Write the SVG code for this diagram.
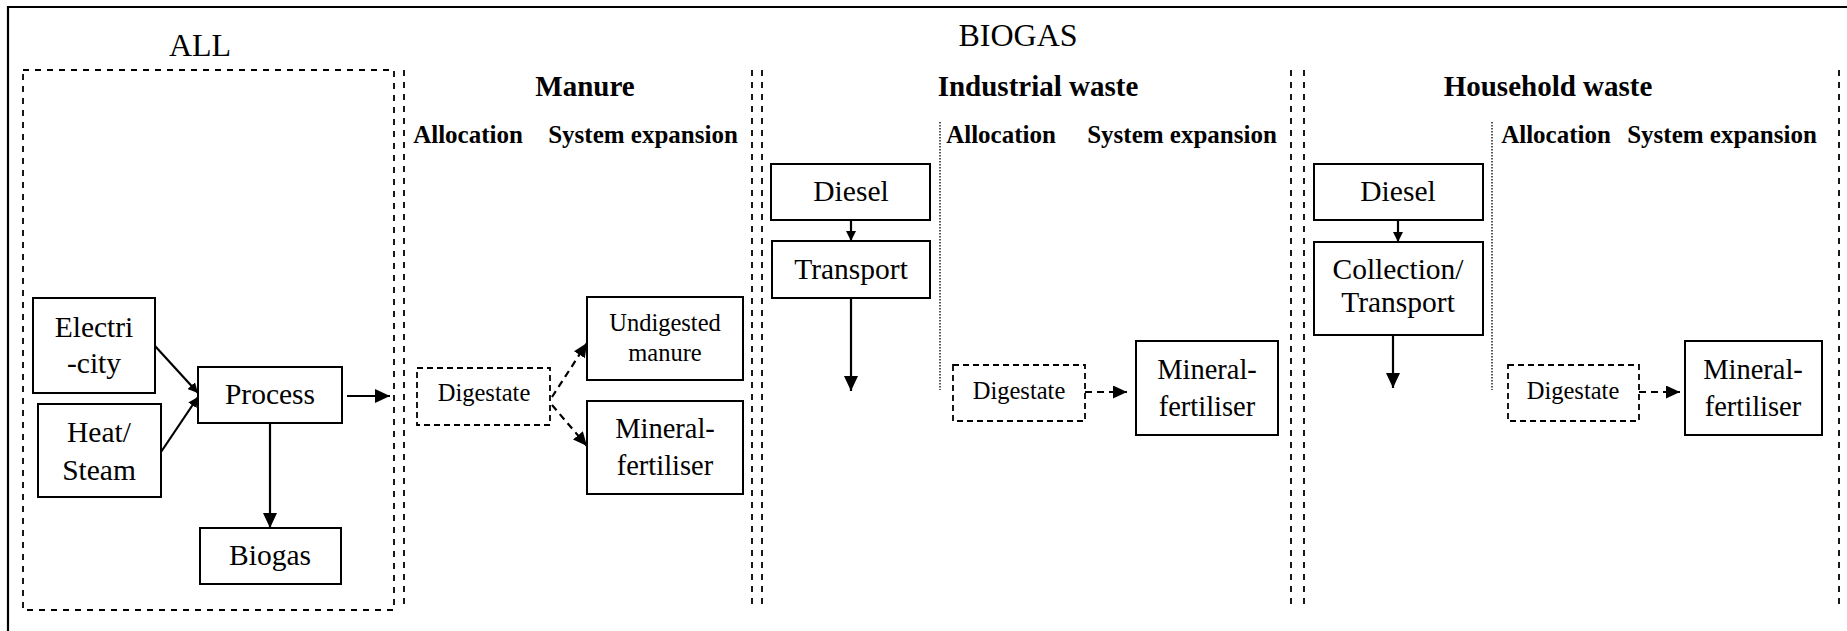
<svg xmlns="http://www.w3.org/2000/svg" width="1847" height="631" viewBox="0 0 1847 631">
<style>
text{font-family:"Liberation Serif","Times New Roman",serif;fill:#000;text-anchor:middle}
.t{font-size:32px}
.h{font-size:29px;font-weight:bold}
.s{font-size:25px;font-weight:bold}
.b{font-size:29.5px}
.f{font-size:28.5px}
.m{font-size:24.5px}
.box{fill:#fff;stroke:#000;stroke-width:2}
.dbox{fill:#fff;stroke:#000;stroke-width:1.8;stroke-dasharray:6 4}
.col{fill:none;stroke:#000;stroke-width:1.8;stroke-dasharray:6 6}
.dot{fill:none;stroke:#000;stroke-width:1.3;stroke-dasharray:1.5 1.5}
.arr{fill:none;stroke:#000;stroke-width:2.2}
.darr{fill:none;stroke:#000;stroke-width:2.2;stroke-dasharray:7 5}
</style>
<defs>
<marker id="ah" markerUnits="userSpaceOnUse" markerWidth="15" markerHeight="14" refX="15" refY="7" orient="auto"><path d="M0,0 L15,7 L0,14 z" fill="#000"/></marker>
<marker id="ahs" markerUnits="userSpaceOnUse" markerWidth="10" markerHeight="10" refX="10" refY="5" orient="auto"><path d="M0,0 L10,5 L0,10 z" fill="#000"/></marker>
<marker id="ahd" markerUnits="userSpaceOnUse" markerWidth="14" markerHeight="13" refX="14" refY="6.5" orient="auto"><path d="M0,0 L14,6.5 L0,13 z" fill="#000"/></marker>
</defs>
<rect width="1847" height="631" fill="#fff"/>
<g id="frame">
<line x1="8" y1="7" x2="1847" y2="7" stroke="#000" stroke-width="2.2"/>
<line x1="8" y1="6" x2="8" y2="631" stroke="#000" stroke-width="2.2"/>
</g>
<g id="titles">
<text class="t" x="1018" y="46">BIOGAS</text>
<text class="t" x="200" y="56">ALL</text>
<text class="h" x="585" y="96">Manure</text>
<text class="h" x="1038" y="96">Industrial waste</text>
<text class="h" x="1548" y="96">Household waste</text>
<text class="s" x="468" y="143">Allocation</text>
<text class="s" x="643" y="143">System expansion</text>
<text class="s" x="1001" y="143">Allocation</text>
<text class="s" x="1182" y="143">System expansion</text>
<text class="s" x="1556" y="143">Allocation</text>
<text class="s" x="1722" y="143">System expansion</text>
</g>
<g id="separators">
<rect class="col" x="23" y="70" width="371" height="540"/>
<line class="col" x1="404" y1="70" x2="404" y2="610"/>
<line class="col" x1="752" y1="70" x2="752" y2="610"/>
<line class="col" x1="762" y1="70" x2="762" y2="610"/>
<line class="col" x1="1291" y1="70" x2="1291" y2="610"/>
<line class="col" x1="1304" y1="70" x2="1304" y2="610"/>
<line class="col" x1="1839" y1="70" x2="1839" y2="610"/>
<line class="dot" x1="940" y1="122" x2="940" y2="390"/>
<line class="dot" x1="1492" y1="122" x2="1492" y2="390"/>
</g>
<g id="connectors">
<line class="arr" x1="155" y1="346" x2="198" y2="393" marker-end="url(#ahs)"/>
<line class="arr" x1="161" y1="452" x2="198" y2="397" marker-end="url(#ahs)"/>
<line class="arr" x1="270" y1="423" x2="270" y2="528" marker-end="url(#ah)"/>
<line class="arr" x1="347" y1="396" x2="390" y2="396" marker-end="url(#ah)"/>
<line class="darr" x1="552" y1="397" x2="587" y2="343" marker-end="url(#ahd)"/>
<line class="darr" x1="552" y1="405" x2="587" y2="446" marker-end="url(#ahd)"/>
<line class="arr" x1="851" y1="220" x2="851" y2="241" marker-end="url(#ahs)"/>
<line class="arr" x1="851" y1="298" x2="851" y2="391" marker-end="url(#ah)"/>
<line class="darr" x1="1085" y1="392" x2="1127" y2="392" marker-end="url(#ahd)"/>
<line class="arr" x1="1398" y1="220" x2="1398" y2="242" marker-end="url(#ahs)"/>
<line class="arr" x1="1393" y1="335" x2="1393" y2="388" marker-end="url(#ah)"/>
<line class="darr" x1="1639" y1="392" x2="1680" y2="392" marker-end="url(#ahd)"/>
</g>
<g id="electricity"><rect class="box" x="33" y="298" width="122" height="95"/><text class="b" x="94" y="337">Electri</text><text class="b" x="94" y="373">-city</text></g>
<g id="heat"><rect class="box" x="38" y="404" width="123" height="93"/><text class="b" x="99" y="442">Heat/</text><text class="b" x="99" y="480">Steam</text></g>
<g id="process"><rect class="box" x="198" y="367" width="144" height="56"/><text class="b" x="270" y="404">Process</text></g>
<g id="biogas"><rect class="box" x="200" y="528" width="141" height="56"/><text class="b" x="270" y="565">Biogas</text></g>
<g id="digestate-manure"><rect class="dbox" x="417" y="368" width="133" height="57"/><text class="m" x="484" y="401">Digestate</text></g>
<g id="undigested"><rect class="box" x="587" y="297" width="156" height="83"/><text class="m" x="665" y="331">Undigested</text><text class="m" x="665" y="361">manure</text></g>
<g id="mineral-manure"><rect class="box" x="587" y="401" width="156" height="93"/><text class="f" x="665" y="438">Mineral-</text><text class="f" x="665" y="475">fertiliser</text></g>
<g id="diesel-ind"><rect class="box" x="771" y="164" width="159" height="56"/><text class="b" x="851" y="201">Diesel</text></g>
<g id="transport"><rect class="box" x="772" y="241" width="158" height="57"/><text class="b" x="851" y="279">Transport</text></g>
<g id="digestate-ind"><rect class="dbox" x="953" y="365" width="132" height="56"/><text class="m" x="1019" y="399">Digestate</text></g>
<g id="mineral-ind"><rect class="box" x="1136" y="341" width="142" height="94"/><text class="f" x="1207" y="379">Mineral-</text><text class="f" x="1207" y="416">fertiliser</text></g>
<g id="diesel-house"><rect class="box" x="1314" y="164" width="169" height="56"/><text class="b" x="1398" y="201">Diesel</text></g>
<g id="collection"><rect class="box" x="1314" y="242" width="169" height="93"/><text class="b" x="1398" y="279">Collection/</text><text class="b" x="1398" y="312">Transport</text></g>
<g id="digestate-house"><rect class="dbox" x="1508" y="365" width="131" height="56"/><text class="m" x="1573" y="399">Digestate</text></g>
<g id="mineral-house"><rect class="box" x="1685" y="341" width="137" height="94"/><text class="f" x="1753" y="379">Mineral-</text><text class="f" x="1753" y="416">fertiliser</text></g>
</svg>
